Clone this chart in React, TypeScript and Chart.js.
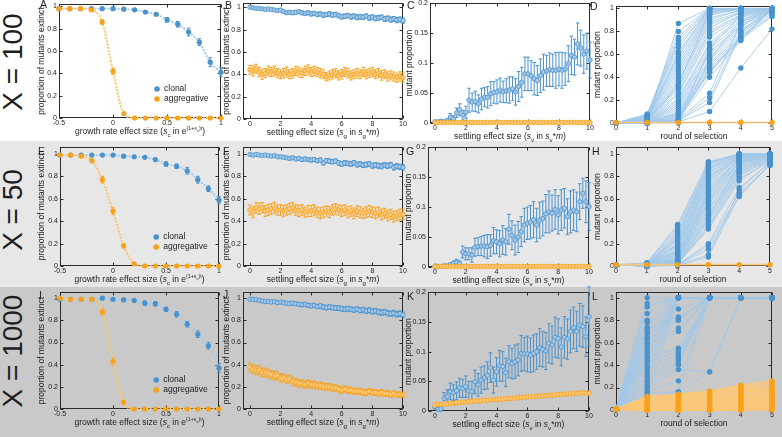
import React, { useEffect, useRef } from 'react';
import { Chart, registerables } from 'chart.js';

Chart.register(...registerables);
const FONT = "'Liberation Sans', Arial, Helvetica, sans-serif";
Chart.defaults.font.family = FONT;
Chart.defaults.color = '#222';

// ===================== DATA =====================
const GROWTH_X = [-0.5, -0.4, -0.3, -0.2, -0.1, 0, 0.1, 0.2, 0.3, 0.4, 0.5, 0.6, 0.7, 0.8, 0.9, 1.0];

const A_CLONAL = [0.98, 0.98, 0.98, 0.98, 0.98, 0.98, 0.975, 0.97, 0.95, 0.93, 0.88, 0.84, 0.77, 0.68, 0.5, 0.41];
const A_CLONAL_ERR = [0.003, 0.003, 0.003, 0.003, 0.004, 0.004, 0.005, 0.007, 0.01, 0.013, 0.02, 0.025, 0.035, 0.03, 0.04, 0.04];
const A_AGGR = [0.98, 0.98, 0.98, 0.97, 0.86, 0.42, 0.04, 0, 0, 0, 0, 0, 0, 0, 0, 0];
const A_AGGR_ERR = [0.003, 0.003, 0.003, 0.005, 0.02, 0.03, 0.012, 0.002, 0, 0, 0, 0, 0, 0, 0, 0];

const E_CLONAL = [0.99, 0.99, 0.99, 0.99, 0.99, 0.99, 0.98, 0.975, 0.97, 0.95, 0.91, 0.89, 0.85, 0.77, 0.69, 0.59];
const E_CLONAL_ERR = [0.003, 0.003, 0.003, 0.003, 0.004, 0.004, 0.005, 0.006, 0.008, 0.01, 0.02, 0.02, 0.03, 0.03, 0.025, 0.03];
const E_AGGR = [0.99, 0.99, 0.98, 0.94, 0.77, 0.49, 0.18, 0.02, 0, 0, 0, 0, 0, 0, 0, 0];
const E_AGGR_ERR = [0.003, 0.003, 0.005, 0.01, 0.03, 0.03, 0.02, 0.005, 0, 0, 0, 0, 0, 0, 0, 0];

const I_CLONAL = [0.99, 0.99, 0.99, 0.99, 1.0, 0.99, 0.985, 0.98, 0.955, 0.95, 0.9, 0.855, 0.765, 0.675, 0.57, 0.37];
const I_CLONAL_ERR = [0.003, 0.003, 0.003, 0.003, 0.003, 0.004, 0.005, 0.006, 0.02, 0.02, 0.02, 0.025, 0.025, 0.03, 0.03, 0.04];
const I_AGGR = [1.0, 0.99, 0.99, 0.99, 0.875, 0.43, 0.06, 0, 0, 0, 0, 0, 0, 0, 0, 0];
const I_AGGR_ERR = [0.003, 0.003, 0.003, 0.004, 0.03, 0.035, 0.02, 0.003, 0, 0, 0, 0, 0, 0, 0, 0];

const SETTLE_X = [
  0, 0.2, 0.4, 0.6, 0.8, 1, 1.2, 1.4, 1.6, 1.8,
  2, 2.2, 2.4, 2.6, 2.8, 3, 3.2, 3.4, 3.6, 3.8,
  4, 4.2, 4.4, 4.6, 4.8, 5, 5.2, 5.4, 5.6, 5.8,
  6, 6.2, 6.4, 6.6, 6.8, 7, 7.2, 7.4, 7.6, 7.8,
  8, 8.2, 8.4, 8.6, 8.8, 9, 9.2, 9.4, 9.6, 9.8,
  10,
];

const B_CLONAL = [
  1.0, 0.995, 0.99, 0.99, 0.985, 0.98, 0.985, 0.98, 0.975, 0.97,
  0.975, 0.96, 0.95, 0.955, 0.95, 0.955, 0.96, 0.95, 0.945, 0.95,
  0.94, 0.945, 0.935, 0.94, 0.93, 0.935, 0.94, 0.93, 0.935, 0.925,
  0.915, 0.92, 0.925, 0.915, 0.92, 0.91, 0.915, 0.91, 0.92, 0.905,
  0.91, 0.9, 0.905, 0.91, 0.895, 0.9, 0.89, 0.895, 0.885, 0.89,
  0.88,
];
const B_CLONAL_ERR = [
  0.005, 0.006, 0.007, 0.007, 0.008, 0.009, 0.01, 0.011, 0.011, 0.012,
  0.013, 0.014, 0.015, 0.015, 0.016, 0.016, 0.016, 0.017, 0.017, 0.018,
  0.018, 0.018, 0.019, 0.018, 0.02, 0.019, 0.019, 0.02, 0.02, 0.02,
  0.021, 0.02, 0.02, 0.021, 0.021, 0.022, 0.021, 0.021, 0.02, 0.022,
  0.022, 0.022, 0.021, 0.021, 0.023, 0.022, 0.023, 0.022, 0.024, 0.023,
  0.024,
];
const B_AGGR = [
  0.44, 0.43, 0.45, 0.42, 0.4, 0.41, 0.43, 0.42, 0.43, 0.41,
  0.4, 0.41, 0.42, 0.4, 0.41, 0.43, 0.42, 0.41, 0.43, 0.44,
  0.42, 0.43, 0.42, 0.41, 0.4, 0.38, 0.39, 0.4, 0.41, 0.39,
  0.4, 0.42, 0.41, 0.39, 0.4, 0.41, 0.4, 0.42, 0.4, 0.41,
  0.42, 0.4, 0.41, 0.39, 0.4, 0.38, 0.39, 0.38, 0.37, 0.38,
  0.37,
];
const B_AGGR_ERR = [
  0.04, 0.045, 0.04, 0.042, 0.045, 0.04, 0.043, 0.04, 0.044, 0.041,
  0.04, 0.042, 0.045, 0.04, 0.043, 0.041, 0.044, 0.04, 0.042, 0.045,
  0.04, 0.043, 0.04, 0.042, 0.04, 0.038, 0.04, 0.042, 0.04, 0.041,
  0.043, 0.04, 0.042, 0.041, 0.04, 0.043, 0.04, 0.042, 0.041, 0.04,
  0.042, 0.04, 0.041, 0.043, 0.04, 0.042, 0.04, 0.041, 0.04, 0.042,
  0.04,
];

const F_CLONAL = [
  0.995, 0.99, 0.995, 0.99, 0.985, 0.99, 0.985, 0.98, 0.985, 0.975,
  0.975, 0.97, 0.965, 0.96, 0.965, 0.955, 0.96, 0.95, 0.955, 0.95,
  0.945, 0.95, 0.94, 0.945, 0.92, 0.94, 0.935, 0.93, 0.935, 0.92,
  0.91, 0.92, 0.915, 0.91, 0.92, 0.905, 0.91, 0.9, 0.905, 0.91,
  0.895, 0.9, 0.895, 0.89, 0.9, 0.895, 0.9, 0.88, 0.89, 0.885,
  0.88,
];
const F_CLONAL_ERR = [
  0.004, 0.005, 0.005, 0.006, 0.007, 0.008, 0.009, 0.01, 0.01, 0.011,
  0.012, 0.012, 0.013, 0.014, 0.014, 0.015, 0.015, 0.016, 0.016, 0.017,
  0.017, 0.018, 0.018, 0.018, 0.019, 0.019, 0.02, 0.019, 0.02, 0.02,
  0.02, 0.021, 0.02, 0.021, 0.021, 0.022, 0.021, 0.022, 0.022, 0.022,
  0.023, 0.022, 0.023, 0.023, 0.022, 0.024, 0.023, 0.024, 0.024, 0.023,
  0.024,
];
const F_AGGR = [
  0.5, 0.48, 0.52, 0.51, 0.52, 0.49, 0.5, 0.51, 0.52, 0.5,
  0.5, 0.49, 0.5, 0.51, 0.52, 0.5, 0.49, 0.5, 0.48, 0.49,
  0.49, 0.5, 0.48, 0.47, 0.48, 0.49, 0.48, 0.5, 0.51, 0.5,
  0.49, 0.5, 0.48, 0.49, 0.47, 0.49, 0.48, 0.47, 0.48, 0.49,
  0.48, 0.47, 0.48, 0.46, 0.47, 0.45, 0.46, 0.44, 0.45, 0.46,
  0.46,
];
const F_AGGR_ERR = [
  0.045, 0.05, 0.048, 0.05, 0.046, 0.048, 0.05, 0.047, 0.049, 0.046,
  0.048, 0.05, 0.047, 0.049, 0.046, 0.048, 0.05, 0.047, 0.045, 0.048,
  0.05, 0.047, 0.046, 0.049, 0.048, 0.046, 0.05, 0.047, 0.048, 0.046,
  0.049, 0.047, 0.05, 0.046, 0.048, 0.047, 0.049, 0.046, 0.048, 0.05,
  0.047, 0.049, 0.046, 0.048, 0.045, 0.047, 0.046, 0.048, 0.045, 0.047,
  0.046,
];

const J_CLONAL = [
  0.99, 0.99, 0.985, 0.98, 0.975, 0.97, 0.97, 0.965, 0.97, 0.96,
  0.965, 0.96, 0.955, 0.95, 0.955, 0.95, 0.945, 0.94, 0.945, 0.935,
  0.93, 0.935, 0.925, 0.93, 0.92, 0.915, 0.92, 0.915, 0.91, 0.91,
  0.905, 0.9, 0.905, 0.9, 0.895, 0.9, 0.89, 0.895, 0.885, 0.89,
  0.88, 0.885, 0.875, 0.87, 0.875, 0.865, 0.86, 0.865, 0.855, 0.86,
  0.85,
];
const J_CLONAL_ERR = [
  0.006, 0.007, 0.008, 0.009, 0.01, 0.011, 0.011, 0.012, 0.013, 0.013,
  0.014, 0.014, 0.015, 0.015, 0.016, 0.016, 0.017, 0.017, 0.018, 0.018,
  0.018, 0.019, 0.019, 0.019, 0.02, 0.02, 0.02, 0.02, 0.021, 0.021,
  0.021, 0.021, 0.022, 0.022, 0.022, 0.022, 0.022, 0.023, 0.023, 0.023,
  0.023, 0.023, 0.024, 0.024, 0.024, 0.024, 0.024, 0.025, 0.025, 0.025,
  0.025,
];
const J_AGGR = [
  0.375, 0.36, 0.35, 0.35, 0.33, 0.33, 0.32, 0.31, 0.3, 0.3,
  0.28, 0.28, 0.27, 0.27, 0.25, 0.24, 0.23, 0.23, 0.22, 0.23,
  0.22, 0.22, 0.21, 0.21, 0.2, 0.2, 0.2, 0.19, 0.19, 0.18,
  0.17, 0.18, 0.17, 0.17, 0.16, 0.16, 0.16, 0.15, 0.15, 0.16,
  0.15, 0.15, 0.14, 0.15, 0.14, 0.14, 0.13, 0.14, 0.13, 0.13,
  0.13,
];
const J_AGGR_ERR = [
  0.04, 0.042, 0.04, 0.041, 0.04, 0.039, 0.04, 0.038, 0.039, 0.037,
  0.038, 0.036, 0.037, 0.035, 0.036, 0.034, 0.035, 0.033, 0.034, 0.033,
  0.032, 0.033, 0.031, 0.032, 0.031, 0.03, 0.031, 0.03, 0.029, 0.03,
  0.029, 0.028, 0.029, 0.028, 0.027, 0.028, 0.027, 0.026, 0.027, 0.026,
  0.026, 0.025, 0.026, 0.025, 0.024, 0.025, 0.024, 0.024, 0.023, 0.024,
  0.023,
];

const C_CLONAL = [
  0.002, 0.002, 0.003, 0.002, 0.004, 0.01, 0.007, 0.017, 0.022, 0.013,
  0.018, 0.038, 0.035, 0.036, 0.032, 0.04, 0.043, 0.043, 0.049, 0.051,
  0.052, 0.055, 0.052, 0.054, 0.055, 0.057, 0.052, 0.061, 0.068, 0.082,
  0.082, 0.079, 0.074, 0.071, 0.079, 0.085, 0.087, 0.089, 0.088, 0.088,
  0.09, 0.088, 0.09, 0.099, 0.113, 0.11, 0.132, 0.125, 0.115, 0.12,
  0.105,
];
const C_CLONAL_ERR = [
  0.001, 0.001, 0.002, 0.002, 0.003, 0.006, 0.005, 0.008, 0.01, 0.008,
  0.01, 0.02, 0.015, 0.017, 0.015, 0.018, 0.016, 0.018, 0.02, 0.018,
  0.02, 0.02, 0.018, 0.02, 0.022, 0.02, 0.022, 0.025, 0.025, 0.028,
  0.028, 0.025, 0.027, 0.025, 0.028, 0.03, 0.026, 0.028, 0.027, 0.03,
  0.028, 0.03, 0.027, 0.03, 0.032, 0.03, 0.035, 0.03, 0.032, 0.03,
  0.03,
];
const C_AGGR = [
  0.001, 0.001, 0.001, 0.001, 0.001, 0.001, 0.001, 0.001, 0.001, 0.001,
  0.001, 0.001, 0.001, 0.001, 0.001, 0.001, 0.001, 0.001, 0.001, 0.001,
  0.001, 0.001, 0.001, 0.001, 0.001, 0.001, 0.001, 0.001, 0.001, 0.001,
  0.001, 0.001, 0.001, 0.001, 0.001, 0.001, 0.001, 0.001, 0.001, 0.001,
  0.001, 0.001, 0.001, 0.001, 0.001, 0.001, 0.001, 0.001, 0.001, 0.001,
  0.001,
];

const G_CLONAL = [
  0.001, 0.001, 0.001, 0.002, 0.002, 0.004, 0.006, 0.008, 0.006, 0.025,
  0.022, 0.022, 0.02, 0.033, 0.034, 0.035, 0.035, 0.034, 0.036, 0.044,
  0.042, 0.039, 0.045, 0.042, 0.063, 0.053, 0.045, 0.05, 0.059, 0.07,
  0.073, 0.075, 0.079, 0.07, 0.078, 0.081, 0.089, 0.092, 0.09, 0.096,
  0.087, 0.095, 0.098, 0.084, 0.092, 0.095, 0.092, 0.109, 0.123, 0.109,
  0.101,
];
const G_CLONAL_ERR = [
  0.001, 0.001, 0.001, 0.002, 0.002, 0.003, 0.004, 0.005, 0.004, 0.01,
  0.01, 0.01, 0.012, 0.015, 0.015, 0.016, 0.018, 0.02, 0.018, 0.022,
  0.02, 0.022, 0.024, 0.022, 0.025, 0.024, 0.025, 0.026, 0.025, 0.028,
  0.027, 0.028, 0.03, 0.028, 0.03, 0.029, 0.032, 0.035, 0.03, 0.033,
  0.032, 0.034, 0.033, 0.03, 0.035, 0.034, 0.033, 0.03, 0.025, 0.035,
  0.04,
];
const G_AGGR = [
  0.001, 0.001, 0.001, 0.001, 0.001, 0.001, 0.001, 0.001, 0.001, 0.001,
  0.001, 0.001, 0.001, 0.001, 0.001, 0.001, 0.001, 0.001, 0.001, 0.001,
  0.001, 0.001, 0.001, 0.001, 0.001, 0.001, 0.001, 0.001, 0.001, 0.001,
  0.001, 0.001, 0.001, 0.001, 0.001, 0.001, 0.001, 0.001, 0.001, 0.001,
  0.001, 0.001, 0.001, 0.001, 0.001, 0.001, 0.001, 0.001, 0.001, 0.001,
  0.001,
];

const K_CLONAL = [
  0.007, 0.003, 0.004, 0.021, 0.024, 0.033, 0.031, 0.034, 0.039, 0.038,
  0.041, 0.034, 0.033, 0.049, 0.044, 0.052, 0.056, 0.06, 0.073, 0.052,
  0.066, 0.076, 0.075, 0.065, 0.083, 0.08, 0.083, 0.086, 0.097, 0.096,
  0.096, 0.094, 0.097, 0.1, 0.107, 0.104, 0.101, 0.114, 0.111, 0.124,
  0.122, 0.108, 0.124, 0.121, 0.134, 0.14, 0.134, 0.145, 0.142, 0.125,
  0.159,
];
const K_CLONAL_ERR = [
  0.004, 0.003, 0.004, 0.01, 0.012, 0.014, 0.013, 0.015, 0.016, 0.015,
  0.018, 0.016, 0.017, 0.02, 0.019, 0.022, 0.02, 0.023, 0.025, 0.022,
  0.024, 0.026, 0.025, 0.024, 0.027, 0.026, 0.028, 0.027, 0.03, 0.028,
  0.03, 0.029, 0.031, 0.03, 0.032, 0.03, 0.031, 0.033, 0.032, 0.034,
  0.033, 0.032, 0.035, 0.034, 0.036, 0.035, 0.034, 0.036, 0.035, 0.033,
  0.05,
];
const K_AGGR = [
  0.01, 0.011, 0.011, 0.012, 0.012, 0.013, 0.013, 0.014, 0.014, 0.015,
  0.015, 0.016, 0.016, 0.017, 0.017, 0.017, 0.018, 0.018, 0.019, 0.019,
  0.019, 0.02, 0.02, 0.021, 0.021, 0.021, 0.022, 0.022, 0.023, 0.023,
  0.024, 0.024, 0.024, 0.025, 0.025, 0.026, 0.026, 0.026, 0.027, 0.027,
  0.028, 0.028, 0.028, 0.029, 0.029, 0.029, 0.03, 0.03, 0.031, 0.03,
  0.03,
];
const K_AGGR_ERR = [
  0.002, 0.002, 0.002, 0.002, 0.002, 0.002, 0.002, 0.002, 0.002, 0.002,
  0.002, 0.002, 0.002, 0.002, 0.002, 0.002, 0.002, 0.002, 0.002, 0.002,
  0.002, 0.002, 0.002, 0.002, 0.002, 0.002, 0.002, 0.002, 0.002, 0.002,
  0.002, 0.002, 0.002, 0.002, 0.002, 0.002, 0.002, 0.002, 0.002, 0.002,
  0.002, 0.002, 0.002, 0.002, 0.002, 0.002, 0.002, 0.002, 0.002, 0.002,
  0.002,
];

const ROUNDS = [0, 1, 2, 3, 4, 5];

const D_CLONAL = [
  [0, 0.01, 0.87, 1, 1, 1], [0, 0.08, 0.75, 1, 1, 1], [0, 0.07, 0.72, 1, 1, 1],
  [0, 0.06, 0.66, 1, 1, 1], [0, 0.05, 0.62, 0.99, 1, 1], [0, 0.05, 0.58, 0.98, 1, 1],
  [0, 0.04, 0.55, 0.97, 1, 1], [0, 0.04, 0.52, 0.96, 1, 1], [0, 0.03, 0.49, 0.95, 0.99, 1],
  [0, 0.03, 0.46, 0.94, 1, 1], [0, 0.02, 0.43, 0.92, 0.98, 1], [0, 0.02, 0.4, 0.9, 0.99, 1],
  [0, 0.02, 0.37, 0.88, 0.97, 1], [0, 0.01, 0.35, 0.86, 0.96, 1], [0, 0.01, 0.32, 0.83, 0.97, 1],
  [0, 0.01, 0.3, 0.8, 0.95, 1], [0, 0.005, 0.27, 0.78, 0.94, 1], [0, 0.005, 0.25, 0.75, 0.93, 0.99],
  [0, 0.005, 0.22, 0.7, 0.92, 1], [0, 0.003, 0.2, 0.68, 0.9, 1], [0, 0.003, 0.18, 0.65, 0.88, 0.99],
  [0, 0.002, 0.16, 0.62, 0.86, 1], [0, 0.002, 0.14, 0.6, 0.85, 0.98], [0, 0.002, 0.12, 0.57, 0.84, 1],
  [0, 0.001, 0.1, 0.55, 0.82, 0.97], [0, 0.001, 0.09, 0.52, 0.8, 1], [0, 0.001, 0.08, 0.5, 0.78, 0.99],
  [0, 0.001, 0.07, 0.48, 0.76, 0.96], [0, 0, 0.06, 0.46, 0.75, 0.94], [0, 0, 0.05, 0.45, 0.74, 1],
  [0, 0, 0.04, 0.44, 0.73, 0.93], [0, 0, 0.03, 0.4, 0.72, 1], [0, 0, 0.03, 0.26, 0.88, 1],
  [0, 0, 0.02, 0.22, 0.8, 1], [0, 0, 0.02, 0.18, 0.78, 0.98], [0, 0, 0.01, 0.1, 0.48, 0.82],
  [0, 0.06, 0.8, 1, 1, 1], [0, 0.07, 0.69, 0.99, 1, 1], [0, 0.03, 0.6, 1, 1, 1],
  [0, 0.02, 0.33, 0.97, 1, 1], [0, 0.01, 0.02, 0.65, 0.95, 1], [0, 0, 0, 0.55, 0.9, 1],
];
const D_AGGR = [[0.004, 0.004, 0.004, 0.004, 0.004, 0.004]];

const H_CLONAL = [
  [0.01, 0.03, 0.37, 0.93, 1, 1], [0.01, 0.02, 0.35, 0.92, 1, 1], [0.01, 0.02, 0.32, 0.9, 1, 1],
  [0.01, 0.015, 0.3, 0.88, 1, 1], [0.01, 0.01, 0.28, 0.86, 0.99, 1], [0.01, 0.01, 0.26, 0.84, 0.98, 1],
  [0.01, 0.01, 0.24, 0.82, 0.99, 1], [0.01, 0.008, 0.22, 0.8, 0.98, 1], [0.01, 0.005, 0.2, 0.78, 0.97, 1],
  [0.01, 0.005, 0.19, 0.76, 0.96, 0.99], [0.01, 0.004, 0.17, 0.74, 0.97, 1], [0.01, 0.004, 0.15, 0.72, 0.95, 1],
  [0.01, 0.003, 0.14, 0.7, 0.94, 0.99], [0.01, 0.003, 0.12, 0.68, 0.95, 1], [0.01, 0.002, 0.11, 0.66, 0.93, 0.98],
  [0.01, 0.002, 0.1, 0.64, 0.92, 1], [0.01, 0.002, 0.09, 0.62, 0.92, 0.99], [0.01, 0.001, 0.08, 0.6, 0.9, 0.98],
  [0.01, 0.001, 0.07, 0.57, 0.89, 1], [0.01, 0.001, 0.06, 0.55, 0.88, 0.97], [0.01, 0.001, 0.05, 0.52, 0.87, 0.99],
  [0.01, 0, 0.05, 0.5, 0.86, 0.96], [0.01, 0, 0.04, 0.47, 0.85, 0.98], [0.01, 0, 0.04, 0.45, 0.84, 0.95],
  [0.01, 0, 0.03, 0.42, 0.83, 0.97], [0.01, 0, 0.03, 0.4, 0.82, 0.94], [0.01, 0, 0.02, 0.37, 0.8, 0.96],
  [0.01, 0, 0.02, 0.35, 0.78, 0.93], [0.01, 0, 0.02, 0.33, 0.76, 0.95], [0.01, 0, 0.01, 0.2, 0.7, 0.92],
  [0.01, 0, 0.01, 0.18, 0.65, 0.9], [0.01, 0, 0.01, 0.15, 0.62, 0.91], [0.01, 0, 0.005, 0.1, 0.68, 0.93],
  [0.01, 0, 0.005, 0.08, 0.63, 0.9], [0.01, 0.01, 0.25, 0.91, 1, 1], [0.01, 0.02, 0.18, 0.87, 0.99, 1],
  [0.01, 0.005, 0.13, 0.79, 0.97, 1], [0.01, 0, 0.06, 0.65, 0.96, 1], [0.01, 0, 0.03, 0.58, 0.93, 1],
  [0.01, 0, 0.01, 0.43, 0.91, 0.99],
];
const H_AGGR = [[0.012, 0.012, 0.012, 0.012, 0.012, 0.012]];

const L_CLONAL = [
  [0.01, 1.0, 1, 1, 1, 1], [0.01, 0.95, 1, 1, 1, 1], [0.01, 0.92, 1, 1, 1, 1],
  [0.01, 0.86, 1, 1, 1, 1], [0.01, 0.8, 1, 1, 1, 1], [0.01, 0.78, 0.9, 1, 1, 1],
  [0.01, 0.74, 1, 1, 1, 1], [0.01, 0.72, 0.83, 1, 1, 1], [0.01, 0.7, 1, 1, 1, 1],
  [0.01, 0.68, 0.81, 1, 1, 1], [0.01, 0.65, 1, 1, 1, 1], [0.01, 0.63, 0.8, 1, 1, 1],
  [0.01, 0.6, 1, 1, 1, 1], [0.01, 0.58, 0.73, 1, 1, 1], [0.01, 0.55, 1, 1, 1, 1],
  [0.01, 0.52, 0.7, 1, 1, 1], [0.01, 0.5, 1, 1, 1, 1], [0.01, 0.47, 0.55, 1, 1, 1],
  [0.01, 0.45, 1, 1, 1, 1], [0.01, 0.43, 0.52, 1, 1, 1], [0.01, 0.4, 1, 1, 1, 1],
  [0.01, 0.38, 0.5, 1, 1, 1], [0.01, 0.35, 0.47, 1, 1, 1], [0.01, 0.32, 1, 1, 1, 1],
  [0.01, 0.3, 0.45, 1, 1, 1], [0.01, 0.27, 0.42, 1, 1, 1], [0.01, 0.25, 1, 1, 1, 1],
  [0.01, 0.22, 0.4, 1, 1, 1], [0.01, 0.2, 0.36, 0.34, 1, 1], [0.01, 0.17, 0.26, 1, 1, 1],
  [0.01, 0.15, 0.16, 0.34, 1, 1], [0.01, 0.12, 1, 1, 1, 1], [0.01, 0.1, 0.16, 1, 1, 1],
];
const L_AGGR = [
  [0.01, 0.12, 0.14, 0.17, 0.22, 0.26], [0.01, 0.11, 0.13, 0.16, 0.21, 0.24],
  [0.01, 0.1, 0.12, 0.15, 0.2, 0.22], [0.01, 0.09, 0.12, 0.14, 0.19, 0.2],
  [0.01, 0.08, 0.11, 0.13, 0.18, 0.19], [0.01, 0.07, 0.1, 0.12, 0.17, 0.18],
  [0.01, 0.06, 0.09, 0.11, 0.16, 0.17], [0.01, 0.05, 0.08, 0.1, 0.14, 0.16],
  [0.01, 0.04, 0.07, 0.09, 0.13, 0.15], [0.01, 0.03, 0.06, 0.08, 0.12, 0.14],
  [0.01, 0.02, 0.05, 0.07, 0.11, 0.13], [0.01, 0.01, 0.04, 0.06, 0.1, 0.12],
  [0.01, 0.0, 0.03, 0.05, 0.09, 0.11], [0.01, 0.0, 0.02, 0.04, 0.08, 0.1],
  [0.01, 0.0, 0.01, 0.03, 0.07, 0.09], [0.01, 0.0, 0.0, 0.02, 0.06, 0.08],
  [0.01, 0.0, 0.0, 0.01, 0.05, 0.07], [0.01, 0.0, 0.0, 0.0, 0.04, 0.06],
  [0.01, 0.0, 0.0, 0.0, 0.03, 0.05], [0.01, 0.0, 0.0, 0.0, 0.02, 0.04],
  [0.01, 0.0, 0.0, 0.0, 0.01, 0.03], [0.01, 0.0, 0.0, 0.0, 0.0, 0.02],
  [0.01, 0.0, 0.0, 0.0, 0.0, 0.01], [0.01, 0.0, 0.0, 0.0, 0.0, 0.0],
];

const ROW_LABELS = ['X = 100', 'X = 50', 'X = 1000'];
const LEGEND_LABELS = ['clonal', 'aggregative'];
const Y_EXTINCT = 'proportion of mutants extinct';
const Y_MUTANT = 'mutant proportion';

// ===================== STYLE =====================
const BLUE = '#4a92cc';
const BLUE_LIGHT = '#a7cbea';
const BLUE_FILL = '#a3c7e6';
const ORANGE = '#f8a21c';
const ORANGE_LIGHT = '#fcc66c';
const ORANGE_FILL = '#fbc878';

type Seg = { t: string; it?: boolean; sub?: boolean; sup?: boolean; supsub?: boolean };

const GROWTH_TITLE: Seg[] = [
  { t: 'growth rate effect size (' },
  { t: 's', it: true }, { t: 'c', sub: true },
  { t: ' in e' },
  { t: '(1+', sup: true }, { t: 's', sup: true, it: true }, { t: 'c', supsub: true }, { t: ')t', sup: true },
  { t: ')' },
];
const SETTLE_G_TITLE: Seg[] = [
  { t: 'settling effect size (' }, { t: 's', it: true }, { t: 'g', sub: true },
  { t: ' in ' }, { t: 's', it: true }, { t: 'g', sub: true }, { t: '*' }, { t: 'm', it: true }, { t: ')' },
];
const SETTLE_V_TITLE: Seg[] = [
  { t: 'settling effect size (' }, { t: 's', it: true }, { t: 'v', sub: true },
  { t: ' in ' }, { t: 's', it: true }, { t: 'v', sub: true }, { t: '*' }, { t: 'm', it: true }, { t: ')' },
];
const ROUND_TITLE: Seg[] = [{ t: 'round of selection' }];

const BASE = 8.5;
function segFont(s: Seg) {
  const size = s.sub ? BASE * 0.72 : s.supsub ? BASE * 0.5 : s.sup ? BASE * 0.62 : BASE;
  return `${s.it ? 'italic ' : ''}${size}px ${FONT}`;
}
function segDy(s: Seg) {
  return s.sub ? BASE * 0.3 : s.supsub ? -BASE * 0.25 : s.sup ? -BASE * 0.42 : 0;
}

const decorPlugin = {
  id: 'decor',
  beforeDatasetsDraw(chart: any) {
    const { ctx, chartArea: a, scales } = chart;
    const xs = scales.x, ys = scales.y;
    ctx.save();
    ctx.strokeStyle = '#2b2b2b';
    ctx.lineWidth = 1;
    const l = Math.round(a.left) + 0.5, t = Math.round(a.top) + 0.5;
    const r = Math.round(a.right) - 0.5, b = Math.round(a.bottom) - 0.5;
    ctx.strokeRect(l, t, r - l, b - t);
    ctx.beginPath();
    xs.ticks.forEach((tk: any) => {
      const px = Math.round(xs.getPixelForValue(tk.value)) + 0.5;
      ctx.moveTo(px, b); ctx.lineTo(px, b - 3);
      ctx.moveTo(px, t); ctx.lineTo(px, t + 3);
    });
    ys.ticks.forEach((tk: any) => {
      const py = Math.round(ys.getPixelForValue(tk.value)) + 0.5;
      ctx.moveTo(l, py); ctx.lineTo(l + 3, py);
      ctx.moveTo(r, py); ctx.lineTo(r - 3, py);
    });
    ctx.stroke();
    chart.data.datasets.forEach((ds: any, i: number) => {
      if (!ds.errors) return;
      const meta = chart.getDatasetMeta(i);
      ctx.strokeStyle = ds.errorColor;
      ctx.lineWidth = 1;
      ctx.beginPath();
      meta.data.forEach((el: any, j: number) => {
        const e = ds.errors[j];
        if (!e) return;
        const v = ds.data[j].y;
        const y1 = ys.getPixelForValue(v + e), y2 = ys.getPixelForValue(v - e);
        const x = el.x;
        ctx.moveTo(x, y1); ctx.lineTo(x, y2);
        ctx.moveTo(x - 1.8, y1); ctx.lineTo(x + 1.8, y1);
        ctx.moveTo(x - 1.8, y2); ctx.lineTo(x + 1.8, y2);
      });
      ctx.stroke();
    });
    ctx.restore();
  },
  afterDatasetsDraw(chart: any, _a: any, opts: any) {
    const { ctx, chartArea: a } = chart;
    ctx.save();
    ctx.fillStyle = '#222';
    ctx.save();
    ctx.translate(a.left - opts.yOff, (a.top + a.bottom) / 2);
    ctx.rotate(-Math.PI / 2);
    ctx.font = `${BASE}px ${FONT}`;
    ctx.textAlign = 'center';
    ctx.textBaseline = 'middle';
    ctx.fillText(opts.yTitle, 0, 0);
    ctx.restore();
    const segs: Seg[] = opts.xTitle;
    let total = 0;
    const widths = segs.map((s) => { ctx.font = segFont(s); const w = ctx.measureText(s.t).width; total += w; return w; });
    let x = (a.left + a.right) / 2 - total / 2;
    const y = a.bottom + 16;
    ctx.textAlign = 'left';
    ctx.textBaseline = 'alphabetic';
    segs.forEach((s, i) => { ctx.font = segFont(s); ctx.fillText(s.t, x, y + segDy(s)); x += widths[i]; });
    if (opts.legend) {
      const lx = a.left + (a.right - a.left) * 0.605;
      [BLUE, ORANGE].forEach((col, i) => {
        const ly = a.bottom - 29 + i * 10;
        ctx.fillStyle = col;
        ctx.beginPath();
        ctx.arc(lx, ly, 2.8, 0, Math.PI * 2);
        ctx.fill();
        ctx.fillStyle = '#222';
        ctx.font = `${BASE}px ${FONT}`;
        ctx.textBaseline = 'middle';
        ctx.fillText(LEGEND_LABELS[i], lx + 7, ly);
      });
    }
    ctx.restore();
  },
};

const xy = (xs: number[], ys: number[]) => xs.map((x, i) => ({ x, y: ys[i] }));

function growthSets(c: number[], cE: number[], g: number[], gE: number[]) {
  const common = {
    borderWidth: 2.3, borderDash: [0.01, 3.3], borderCapStyle: 'round',
    cubicInterpolationMode: 'monotone', pointRadius: 2.6, pointBorderWidth: 0, clip: false,
  };
  return [
    { ...common, label: LEGEND_LABELS[1], data: xy(GROWTH_X, g), errors: gE, errorColor: ORANGE, borderColor: ORANGE_LIGHT, pointBackgroundColor: ORANGE, order: 0 },
    { ...common, label: LEGEND_LABELS[0], data: xy(GROWTH_X, c), errors: cE, errorColor: BLUE, borderColor: BLUE_LIGHT, pointBackgroundColor: BLUE, order: 1 },
  ];
}

function settleSets(c: number[], cE: number[] | null, g: number[], gE: number[] | null) {
  const common = { borderWidth: 1, pointRadius: 2.2, pointBorderWidth: 0.8, clip: false };
  return [
    { ...common, label: LEGEND_LABELS[1], data: xy(SETTLE_X, g), errors: gE, errorColor: ORANGE, borderColor: ORANGE_LIGHT, pointBackgroundColor: ORANGE_FILL, pointBorderColor: ORANGE, order: 0 },
    { ...common, label: LEGEND_LABELS[0], data: xy(SETTLE_X, c), errors: cE, errorColor: BLUE, borderColor: BLUE_LIGHT, pointBackgroundColor: BLUE_FILL, pointBorderColor: BLUE, order: 1 },
  ];
}

function trajSets(c: number[][], g: number[][]) {
  const sets: any[] = [];
  c.forEach((t) => sets.push({ data: xy(ROUNDS, t), borderColor: 'rgba(160,200,234,0.85)', borderWidth: 1, pointRadius: 0, order: 4, clip: false }));
  sets.push({ data: c.flatMap((t) => xy(ROUNDS, t)), showLine: false, pointRadius: 2.7, pointBackgroundColor: BLUE, pointBorderWidth: 0, order: 3, clip: false });
  g.forEach((t) => sets.push({ data: xy(ROUNDS, t), borderColor: 'rgba(253,200,118,0.9)', borderWidth: 1.6, pointRadius: 0, order: 2, clip: false }));
  sets.push({ data: g.flatMap((t) => xy(ROUNDS, t)), showLine: false, pointRadius: 2.7, pointBackgroundColor: ORANGE, pointBorderWidth: 0, order: 1, clip: false });
  return sets;
}

type Spec = {
  key: string;
  rect: [number, number, number, number];
  x: [number, number, number];
  y: [number, number, number];
  build: () => any[];
  yTitle: string;
  yOff: number;
  xTitle: Seg[];
  legend?: boolean;
};

const G_X: [number, number, number] = [-0.5, 1, 0.5];
const S_X: [number, number, number] = [-0.45, 10, 2];
const R_X: [number, number, number] = [0, 5, 1];

const PANELS: Spec[] = [
  { key: 'A', rect: [59, 4, 221, 118], x: G_X, y: [0, 1.02, 0.2], build: () => growthSets(A_CLONAL, A_CLONAL_ERR, A_AGGR, A_AGGR_ERR), yTitle: Y_EXTINCT, yOff: 17, xTitle: GROWTH_TITLE, legend: true },
  { key: 'B', rect: [243, 3, 403, 119], x: S_X, y: [0, 1.036, 0.2], build: () => settleSets(B_CLONAL, B_CLONAL_ERR, B_AGGR, B_AGGR_ERR), yTitle: Y_EXTINCT, yOff: 16, xTitle: SETTLE_G_TITLE },
  { key: 'C', rect: [430, 3, 590, 123], x: [-0.32, 10, 2], y: [0, 0.2, 0.05], build: () => settleSets(C_CLONAL, C_CLONAL_ERR, C_AGGR, null), yTitle: Y_MUTANT, yOff: 20, xTitle: SETTLE_V_TITLE },
  { key: 'D', rect: [616, 6, 772, 123], x: R_X, y: [0, 1.02, 0.2], build: () => trajSets(D_CLONAL, D_AGGR), yTitle: Y_MUTANT, yOff: 18, xTitle: ROUND_TITLE },

  { key: 'E', rect: [60, 147, 219, 266], x: G_X, y: [0, 1.06, 0.2], build: () => growthSets(E_CLONAL, E_CLONAL_ERR, E_AGGR, E_AGGR_ERR), yTitle: Y_EXTINCT, yOff: 18, xTitle: GROWTH_TITLE, legend: true },
  { key: 'F', rect: [243, 147, 403, 266], x: S_X, y: [0, 1.06, 0.2], build: () => settleSets(F_CLONAL, F_CLONAL_ERR, F_AGGR, F_AGGR_ERR), yTitle: Y_EXTINCT, yOff: 16, xTitle: SETTLE_G_TITLE },
  { key: 'G', rect: [428, 147, 589, 267], x: S_X, y: [0, 0.2, 0.05], build: () => settleSets(G_CLONAL, G_CLONAL_ERR, G_AGGR, null), yTitle: Y_MUTANT, yOff: 19, xTitle: SETTLE_V_TITLE },
  { key: 'H', rect: [616, 147, 770, 266], x: R_X, y: [0, 1.06, 0.2], build: () => trajSets(H_CLONAL, H_AGGR), yTitle: Y_MUTANT, yOff: 18, xTitle: ROUND_TITLE },

  { key: 'I', rect: [60, 292, 219, 409], x: G_X, y: [0, 1.054, 0.2], build: () => growthSets(I_CLONAL, I_CLONAL_ERR, I_AGGR, I_AGGR_ERR), yTitle: Y_EXTINCT, yOff: 18, xTitle: GROWTH_TITLE, legend: true },
  { key: 'J', rect: [243, 292, 403, 409], x: S_X, y: [0, 1.054, 0.2], build: () => settleSets(J_CLONAL, J_CLONAL_ERR, J_AGGR, J_AGGR_ERR), yTitle: Y_EXTINCT, yOff: 16, xTitle: SETTLE_G_TITLE },
  { key: 'K', rect: [428, 292, 589, 411], x: S_X, y: [0, 0.2, 0.05], build: () => settleSets(K_CLONAL, K_CLONAL_ERR, K_AGGR, K_AGGR_ERR), yTitle: Y_MUTANT, yOff: 19, xTitle: SETTLE_V_TITLE },
  { key: 'L', rect: [616, 292, 772, 410], x: R_X, y: [0, 1.05, 0.2], build: () => trajSets(L_CLONAL, L_AGGR), yTitle: Y_MUTANT, yOff: 18, xTitle: ROUND_TITLE },
];

const PAD_L = 32, PAD_T = 6, PAD_R = 8, PAD_B = 24;
const fmtTick = (v: any) => String(Number(Number(v).toFixed(3)));

function Panel({ spec }: { spec: Spec }) {
  const ref = useRef<HTMLCanvasElement>(null);
  const [L, T, R, B] = spec.rect;
  const cl = L - PAD_L, ct = T - PAD_T;
  const cw = R + PAD_R - cl, ch = B + PAD_B - ct;
  useEffect(() => {
    const tickFont = { size: 7, family: FONT };
    const chart = new Chart(ref.current as HTMLCanvasElement, {
      type: 'line',
      data: { datasets: spec.build() },
      options: {
        animation: false,
        responsive: false,
        devicePixelRatio: 1,
        events: [],
        layout: { padding: { top: PAD_T, right: PAD_R, left: 0, bottom: 0 } },
        plugins: {
          legend: { display: false },
          tooltip: { enabled: false },
          decor: { yTitle: spec.yTitle, yOff: spec.yOff, xTitle: spec.xTitle, legend: !!spec.legend },
        } as any,
        scales: {
          x: {
            type: 'linear', min: spec.x[0], max: spec.x[1],
            ticks: { stepSize: spec.x[2], includeBounds: false, font: tickFont, color: '#222', padding: 1, maxRotation: 0, autoSkip: false, callback: fmtTick },
            grid: { display: false, drawTicks: false }, border: { display: false },
            afterFit: (s: any) => { s.height = PAD_B; },
          },
          y: {
            type: 'linear', min: spec.y[0], max: spec.y[1],
            ticks: { stepSize: spec.y[2], includeBounds: false, font: tickFont, color: '#222', padding: 2, autoSkip: false, callback: fmtTick },
            grid: { display: false, drawTicks: false }, border: { display: false },
            afterFit: (s: any) => { s.width = PAD_L; },
          },
        },
      } as any,
      plugins: [decorPlugin as any],
    });
    return () => chart.destroy();
  }, []);
  return (
    <canvas
      ref={ref}
      width={cw}
      height={ch}
      style={{ position: 'absolute', left: cl, top: ct, width: cw, height: ch }}
    />
  );
}

const LETTER_POS: [string, number, number][] = [
  ['A', 40, -1], ['B', 225, 0], ['C', 407, 0], ['D', 590, 1],
  ['E', 38, 146], ['F', 223, 146], ['G', 406, 146], ['H', 592, 146],
  ['I', 39, 290], ['J', 223, 289], ['K', 407, 291], ['L', 592, 291],
];
const ROW_CENTERS = [62, 210, 351];

export default function App() {
  useEffect(() => {
    document.body.style.margin = '0';
  }, []);
  return (
    <div style={{ position: 'fixed', left: 0, top: 0, width: 782, height: 437, overflow: 'hidden', background: '#ffffff', fontFamily: FONT }}>
      <div style={{ position: 'absolute', left: 0, top: 0, width: 782, height: 141, background: '#ffffff' }} />
      <div style={{ position: 'absolute', left: 0, top: 141, width: 782, height: 146, background: '#e7e7e7' }} />
      <div style={{ position: 'absolute', left: 0, top: 287, width: 782, height: 150, background: '#c9c9c9' }} />
      {ROW_LABELS.map((t, i) => (
        <div
          key={t}
          style={{
            position: 'absolute', left: 13, top: ROW_CENTERS[i], transform: 'translate(-50%, -50%) rotate(-90deg)',
            fontSize: 28, lineHeight: 1, whiteSpace: 'nowrap', color: '#1e1e1e', fontFamily: FONT,
          }}
        >
          {t}
        </div>
      ))}
      {PANELS.map((p) => (
        <Panel key={p.key} spec={p} />
      ))}
      {LETTER_POS.map(([k, x, y]) => (
        <div key={k} style={{ position: 'absolute', left: x, top: y, fontSize: 10.5, lineHeight: 1, color: '#1e1e1e', fontFamily: FONT }}>
          {k}
        </div>
      ))}
    </div>
  );
}
